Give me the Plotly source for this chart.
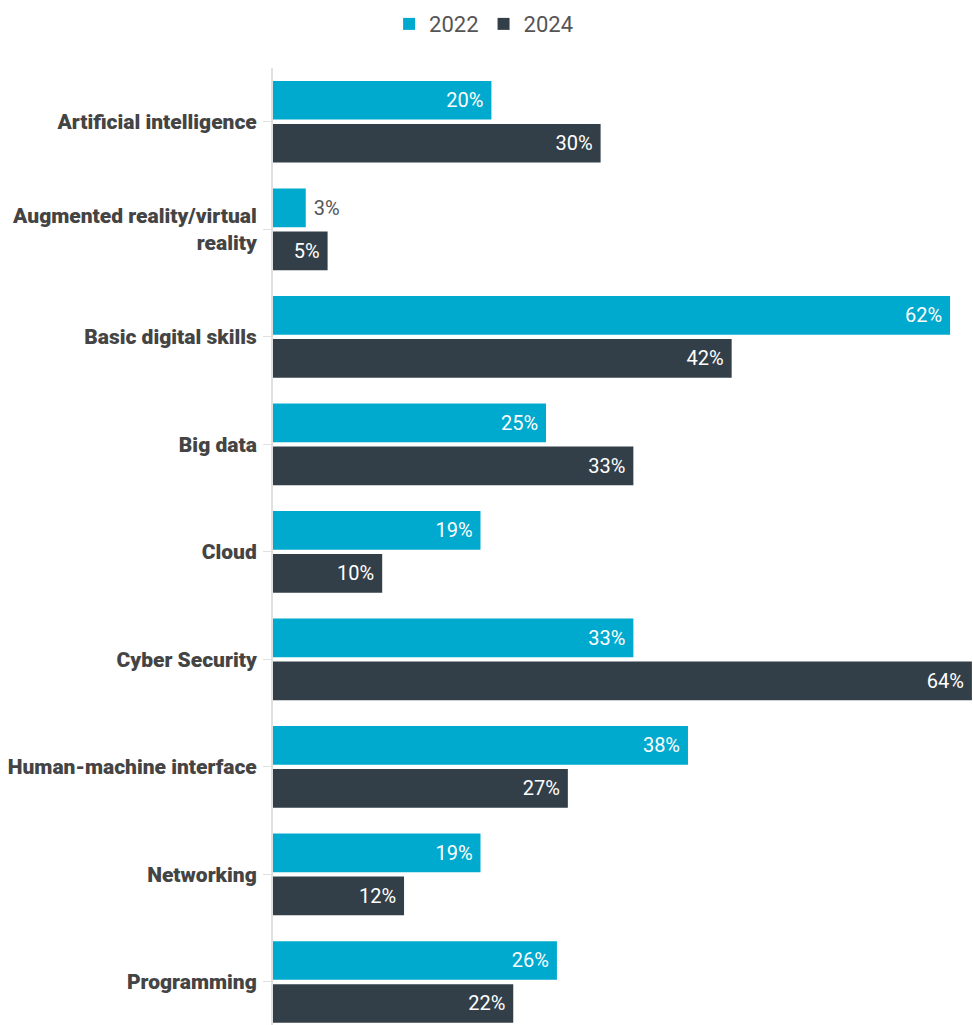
import plotly.graph_objects as go

categories = ["Artificial intelligence", "Augmented reality/virtual<br>reality",
              "Basic digital skills", "Big data", "Cloud", "Cyber Security",
              "Human-machine interface", "Networking", "Programming"]
v2022 = [20, 3, 62, 25, 19, 33, 38, 19, 26]
v2024 = [30, 5, 42, 33, 10, 64, 27, 12, 22]

c2022 = "#00A9CE"
c2024 = "#333F48"

fig = go.Figure()
for name, vals, col in [("2022", v2022, c2022), ("2024", v2024, c2024)]:
    fig.add_trace(go.Bar(
        y=categories, x=vals, name=name, orientation="h",
        marker=dict(color=col, line=dict(width=0)),
        text=[(" " + f"{v}%") if v < 4 else (f"{v}%" + "\u00a0") for v in vals],
        textposition=["outside" if v < 4 else "inside" for v in vals],
        insidetextanchor="end", constraintext="none",
        insidetextfont=dict(color="white", size=20, family="Roboto"),
        outsidetextfont=dict(color="#555555", size=20, family="Roboto"),
        cliponaxis=False,
    ))

fig.update_layout(
    width=973, height=1025,
    margin=dict(l=273, r=0, t=68, b=0),
    paper_bgcolor="white", plot_bgcolor="white",
    barmode="group", bargap=0.2, bargroupgap=0.1,
    font=dict(family="Roboto", color="#444444"),
    legend=dict(orientation="h", x=0.497, xanchor="center", xref="container",
                y=0.997, yanchor="top", yref="container",
                font=dict(size=22, color="#555555"),
                itemwidth=30, traceorder="normal"),
    showlegend=True,
    xaxis=dict(range=[0, 64.1], visible=False),
    yaxis=dict(categoryorder="array", categoryarray=categories,
               range=[8.4, -0.5], showline=True, linecolor="#e0e0e0", linewidth=2,
               ticks="outside", ticklen=8, tickcolor="#e0e0e0",
               tickfont=dict(size=21, color="#444444", family="Roboto Black, Roboto"),
               ticklabelstandoff=2, showgrid=False),
)
fig.write_html("out.html")
